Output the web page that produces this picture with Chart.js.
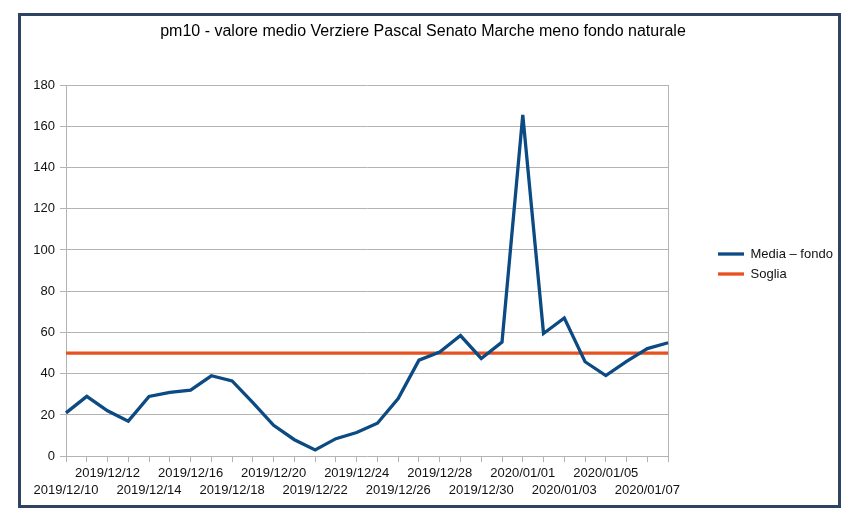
<!DOCTYPE html>
<html>
<head>
<meta charset="utf-8">
<script src="https://cdn.jsdelivr.net/npm/chart.js@4"></script>
<style>
  html, body { margin: 0; padding: 0; background: #fff; }
  #wrap { position: relative; width: 847px; height: 527px; }
  #frame { position: absolute; left: 18px; top: 13px; width: 823px; height: 495px;
           border: 3px solid #2f4462; box-sizing: border-box; pointer-events: none; }
</style>
</head>
<body>
<div id="wrap">
  <canvas id="pmChart" width="847" height="527"></canvas>
  <div id="frame"></div>
</div>
<script>
const days = [
    '2019/12/10', '2019/12/11', '2019/12/12', '2019/12/13', '2019/12/14', '2019/12/15',
    '2019/12/16', '2019/12/17', '2019/12/18', '2019/12/19', '2019/12/20', '2019/12/21',
    '2019/12/22', '2019/12/23', '2019/12/24', '2019/12/25', '2019/12/26', '2019/12/27',
    '2019/12/28', '2019/12/29', '2019/12/30', '2019/12/31', '2020/01/01', '2020/01/02',
    '2020/01/03', '2020/01/04', '2020/01/05', '2020/01/06', '2020/01/07', '2020/01/08'
];
const mediaFondo = [
    21, 29, 22, 17, 29, 31, 32, 39, 36.5, 26, 15, 8, 3, 8.5, 11.5, 16, 28, 46.6,
    50.5, 58.5, 47.4, 55.3, 165.5, 59.5, 67, 45.8, 39.1, 46, 52.2, 55
];
const soglia = [
    50, 50, 50, 50, 50, 50, 50, 50, 50, 50, 50, 50, 50, 50, 50,
    50, 50, 50, 50, 50, 50, 50, 50, 50, 50, 50, 50, 50, 50, 50
];
const yTicks = [0, 20, 40, 60, 80, 100, 120, 140, 160, 180];

const gridGray = '#b3b3b3';

Chart.defaults.font.family = "'Liberation Sans', Arial, sans-serif";
Chart.defaults.font.size = 13;
Chart.defaults.color = '#111';

// nudge legend and title to where the spreadsheet puts them
const boxPlace = {
    id: 'boxPlace',
    afterLayout(chart) {
        const lg = chart.legend;
        const w = lg.width;
        lg.left = 711;
        lg.right = lg.left + w;
        lg.top += 13;
        lg.bottom += 13;
        const t = chart.titleBlock;
        t.left += 13;
        t.right += 13;
    }
};

const ctx = document.getElementById('pmChart').getContext('2d');
new Chart(ctx, {
    type: 'line',
    data: {
        labels: days,
        datasets: [{
            label: 'Media \u2013 fondo',
            data: mediaFondo,
            borderColor: '#0b4a82',
            backgroundColor: '#0b4a82',
            borderWidth: 3.3,
            pointRadius: 0,
            tension: 0
        }, {
            label: 'Soglia',
            data: soglia,
            borderColor: '#e8501f',
            backgroundColor: '#e8501f',
            borderWidth: 3.3,
            pointRadius: 0,
            tension: 0
        }]
    },
    options: {
        responsive: false,
        animation: false,
        layout: { padding: { top: 0, left: 20, right: 47, bottom: 25 } },
        plugins: {
            title: {
                display: true,
                text: 'pm10 - valore medio Verziere Pascal Senato Marche meno fondo naturale',
                color: '#000',
                font: { size: 16, weight: 'normal' },
                padding: { top: 21.5, bottom: 44.3 }
            },
            legend: {
                position: 'right',
                labels: {
                    usePointStyle: true,
                    pointStyle: 'line',
                    pointStyleWidth: 26,
                    padding: 7,
                    color: '#111'
                }
            },
            tooltip: { enabled: false }
        },
        scales: {
            x: {
                offset: false,
                grid: {
                    drawOnChartArea: true,
                    color: (c) => c.index === days.length - 1 ? gridGray : 'rgba(0,0,0,0)',
                    tickColor: gridGray,
                    tickLength: 6
                },
                border: { display: false },
                ticks: {
                    autoSkip: false,
                    maxRotation: 0,
                    padding: 3,
                    font: { lineHeight: 1.3 },
                    callback: function (val, i) {
                        if (i % 2) return '';
                        return i % 4 === 0 ? ['', days[i]] : [days[i], ''];
                    }
                }
            },
            y: {
                min: 0,
                max: 180,
                afterFit: (s) => { s.width = 46; },
                afterBuildTicks: (s) => { s.ticks = yTicks.map(v => ({ value: v })); },
                grid: { color: gridGray, tickColor: gridGray, tickLength: 6 },
                border: { color: gridGray },
                ticks: { padding: 5 }
            }
        }
    },
    plugins: [boxPlace]
});
</script>
</body>
</html>
